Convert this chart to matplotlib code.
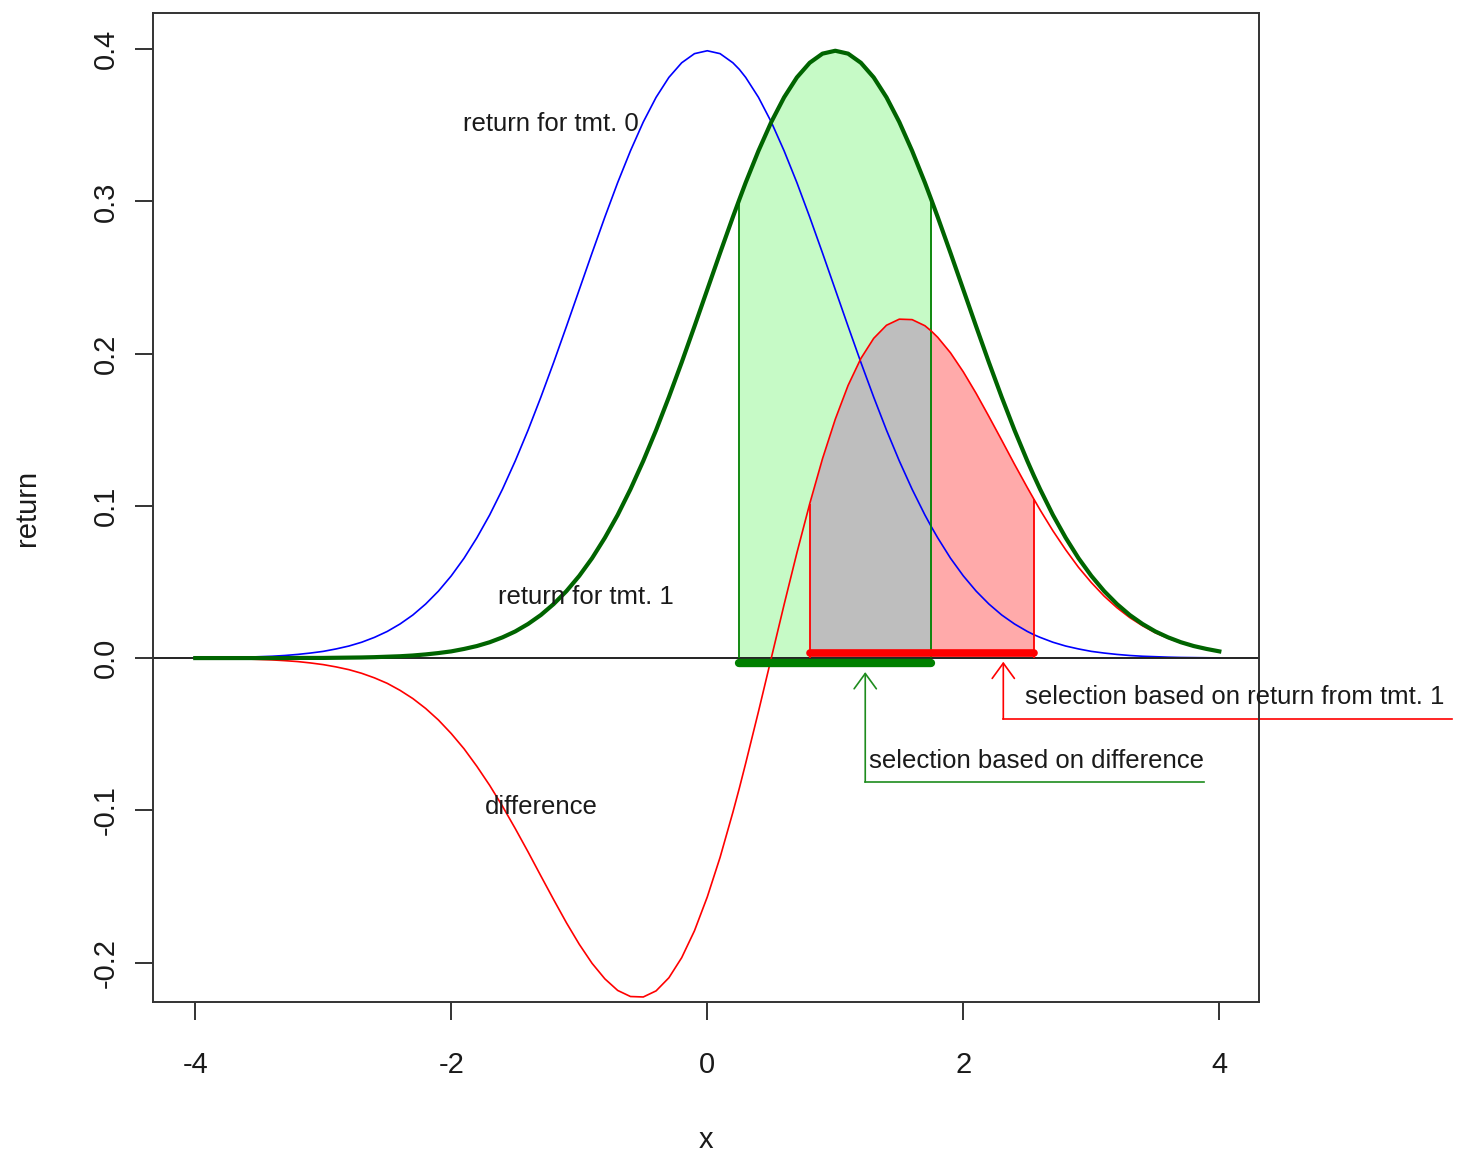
import numpy as np
import matplotlib.pyplot as plt

plt.rcParams['font.family'] = ['Liberation Sans', 'DejaVu Sans']

# curve values (step 0.1, plus the band edges)
x_vals = [-4.0, -3.9, -3.8, -3.7, -3.6, -3.5, -3.4, -3.3, -3.2, -3.1,
          -3.0, -2.9, -2.8, -2.7, -2.6, -2.5, -2.4, -2.3, -2.2, -2.1,
          -2.0, -1.9, -1.8, -1.7, -1.6, -1.5, -1.4, -1.3, -1.2, -1.1,
          -1.0, -0.9, -0.8, -0.7, -0.6, -0.5, -0.4, -0.3, -0.2, -0.1,
          0.0, 0.1, 0.2, 0.25, 0.3, 0.4, 0.5, 0.6, 0.7, 0.8,
          0.9, 1.0, 1.1, 1.2, 1.3, 1.4, 1.5, 1.6, 1.7, 1.75,
          1.8, 1.9, 2.0, 2.1, 2.2, 2.3, 2.4, 2.5, 2.55, 2.6,
          2.7, 2.8, 2.9, 3.0, 3.1, 3.2, 3.3, 3.4, 3.5, 3.6,
          3.7, 3.8, 3.9, 4.0]
ret_tmt0 = [0.0001, 0.0002, 0.0003, 0.0004, 0.0006, 0.0009, 0.0012, 0.0017, 0.0024, 0.0033,
            0.0044, 0.0060, 0.0079, 0.0104, 0.0136, 0.0175, 0.0224, 0.0283, 0.0355, 0.0440,
            0.0540, 0.0656, 0.0790, 0.0940, 0.1109, 0.1295, 0.1497, 0.1714, 0.1942, 0.2179,
            0.2420, 0.2661, 0.2897, 0.3123, 0.3332, 0.3521, 0.3683, 0.3814, 0.3910, 0.3970,
            0.3989, 0.3970, 0.3910, 0.3867, 0.3814, 0.3683, 0.3521, 0.3332, 0.3123, 0.2897,
            0.2661, 0.2420, 0.2179, 0.1942, 0.1714, 0.1497, 0.1295, 0.1109, 0.0940, 0.0863,
            0.0790, 0.0656, 0.0540, 0.0440, 0.0355, 0.0283, 0.0224, 0.0175, 0.0154, 0.0136,
            0.0104, 0.0079, 0.0060, 0.0044, 0.0033, 0.0024, 0.0017, 0.0012, 0.0009, 0.0006,
            0.0004, 0.0003, 0.0002, 0.0001]
ret_tmt1 = [0.0000, 0.0000, 0.0000, 0.0000, 0.0000, 0.0000, 0.0000, 0.0000, 0.0001, 0.0001,
            0.0001, 0.0002, 0.0003, 0.0004, 0.0006, 0.0009, 0.0012, 0.0017, 0.0024, 0.0033,
            0.0044, 0.0060, 0.0079, 0.0104, 0.0136, 0.0175, 0.0224, 0.0283, 0.0355, 0.0440,
            0.0540, 0.0656, 0.0790, 0.0940, 0.1109, 0.1295, 0.1497, 0.1714, 0.1942, 0.2179,
            0.2420, 0.2661, 0.2897, 0.3011, 0.3123, 0.3332, 0.3521, 0.3683, 0.3814, 0.3910,
            0.3970, 0.3989, 0.3970, 0.3910, 0.3814, 0.3683, 0.3521, 0.3332, 0.3123, 0.3011,
            0.2897, 0.2661, 0.2420, 0.2179, 0.1942, 0.1714, 0.1497, 0.1295, 0.1200, 0.1109,
            0.0940, 0.0790, 0.0656, 0.0540, 0.0440, 0.0355, 0.0283, 0.0224, 0.0175, 0.0136,
            0.0104, 0.0079, 0.0060, 0.0044]
ret_diff = [-0.0001, -0.0002, -0.0003, -0.0004, -0.0006, -0.0009, -0.0012, -0.0017, -0.0023, -0.0032,
            -0.0043, -0.0058, -0.0076, -0.0100, -0.0130, -0.0166, -0.0212, -0.0266, -0.0331, -0.0407,
            -0.0496, -0.0596, -0.0711, -0.0836, -0.0973, -0.1120, -0.1273, -0.1431, -0.1587, -0.1739,
            -0.1880, -0.2005, -0.2107, -0.2183, -0.2223, -0.2226, -0.2186, -0.2100, -0.1968, -0.1791,
            -0.1569, -0.1309, -0.1013, -0.0856, -0.0691, -0.0351, 0.0000, 0.0351, 0.0691, 0.1013,
            0.1309, 0.1569, 0.1791, 0.1968, 0.2100, 0.2186, 0.2226, 0.2223, 0.2183, 0.2148,
            0.2107, 0.2005, 0.1880, 0.1739, 0.1587, 0.1431, 0.1273, 0.1120, 0.1046, 0.0973,
            0.0836, 0.0711, 0.0596, 0.0496, 0.0407, 0.0331, 0.0266, 0.0212, 0.0166, 0.0130,
            0.0100, 0.0076, 0.0058, 0.0043]

green_sel = (0.25, 1.75)   # x range under tmt. 1 curve (green band)
red_sel = (0.8, 2.55)      # x range under difference curve (red band)

x = np.array(x_vals)
y0 = np.array(ret_tmt0)
y1 = np.array(ret_tmt1)
yd = np.array(ret_diff)

fig = plt.figure(figsize=(14.58, 11.57), dpi=100)
ax = fig.add_axes([153 / 1458, 1 - 1002 / 1157, 1106 / 1458, 989 / 1157])

in_green = (x >= green_sel[0]) & (x <= green_sel[1])
in_red = (x >= red_sel[0]) & (x <= red_sel[1])
in_both = in_green & in_red

ax.fill_between(x[in_green], 0, y1[in_green], color='#C6FAC6', lw=0, zorder=1)
ax.fill_between(x[in_red], 0, yd[in_red], color='#FFAAAA', lw=0, zorder=1.1)
ax.fill_between(x[in_both], 0, yd[in_both], color='#BEBEBE', lw=0, zorder=1.2)

# borders of the selected bands
gi = [x_vals.index(v) for v in green_sel]
ri = [x_vals.index(v) for v in red_sel]
ax.vlines(x[gi], 0, y1[gi], color='#008000', lw=1.3, zorder=2.2)
ax.vlines(x[ri], 0, yd[ri], color='#FF0000', lw=1.3, zorder=2.2)

ax.plot(x, y0, color='#0000FF', lw=1.2, zorder=1.5)
ax.axhline(0, color='#222222', lw=1.4, zorder=2)
ax.plot(x, yd, color='#FF0000', lw=1.2, zorder=2.5)
ax.plot(x, y1, color='#006400', lw=3.0, zorder=3)

# thick selection bars on the zero line
ax.plot(green_sel, [-0.003, -0.003], color='#008000', lw=6, solid_capstyle='round', zorder=4)
ax.plot(red_sel, [0.0033, 0.0033], color='#FF0000', lw=5.5, solid_capstyle='round', zorder=4.1)

# labels on the curves
txt = dict(fontsize=18.5, color='#1a1a1a', va='center')
ax.text(-1.22, 0.351, 'return for tmt. 0', ha='center', **txt)
ax.text(-0.95, 0.040, 'return for tmt. 1', ha='center', **txt)
ax.text(-1.30, -0.098, 'difference', ha='center', **txt)

# arrows pointing at the selections
head = '->,head_length=1.1,head_width=0.8'
ax.annotate('', xy=(1.234, -0.0092), xytext=(1.234, -0.0814),
            arrowprops=dict(arrowstyle=head, color='#1E8C1E', lw=1.2, shrinkA=0, shrinkB=0))
ax.plot([1.234, 3.88], [-0.0814, -0.0814], color='#1E8C1E', lw=1.2, clip_on=False)
ax.text(1.266, -0.0677, 'selection based on difference', ha='left', **txt)

ax.annotate('', xy=(2.3125, -0.0024), xytext=(2.3125, -0.040),
            arrowprops=dict(arrowstyle=head, color='#FF0000', lw=1.2, shrinkA=0, shrinkB=0),
            annotation_clip=False)
ax.plot([2.3125, 5.82], [-0.040, -0.040], color='#FF0000', lw=1.2, clip_on=False)
ax.text(2.48, -0.0256, 'selection based on return from tmt. 1', ha='left', **txt)

ax.set_xlim(-4.33, 4.31)
ax.set_ylim(-0.2259, 0.4237)
ax.set_xticks([-4, -2, 0, 2, 4])
ax.set_xticklabels(['-4', '-2', '0', '2', '4'])
ax.set_yticks([-0.2, -0.1, 0.0, 0.1, 0.2, 0.3, 0.4])
ax.set_yticklabels(['-0.2', '-0.1', '0.0', '0.1', '0.2', '0.3', '0.4'])

for s in ax.spines.values():
    s.set_color('#333333')
    s.set_linewidth(1.4)
ax.tick_params(direction='out', length=13, width=1.4, color='#333333',
               labelsize=21, labelcolor='#1a1a1a')
ax.tick_params(axis='x', pad=22.5)
ax.tick_params(axis='y', pad=10.8, labelrotation=90)
for lab in ax.get_yticklabels():
    lab.set_va('center')

ax.set_xlabel('x', fontsize=21, color='#1a1a1a')
ax.set_ylabel('return', fontsize=21, color='#1a1a1a')
ax.xaxis.set_label_coords(0.5, -0.1257)
ax.yaxis.set_label_coords(-0.1013, 0.5)

fig.savefig('out.png', dpi=100)
